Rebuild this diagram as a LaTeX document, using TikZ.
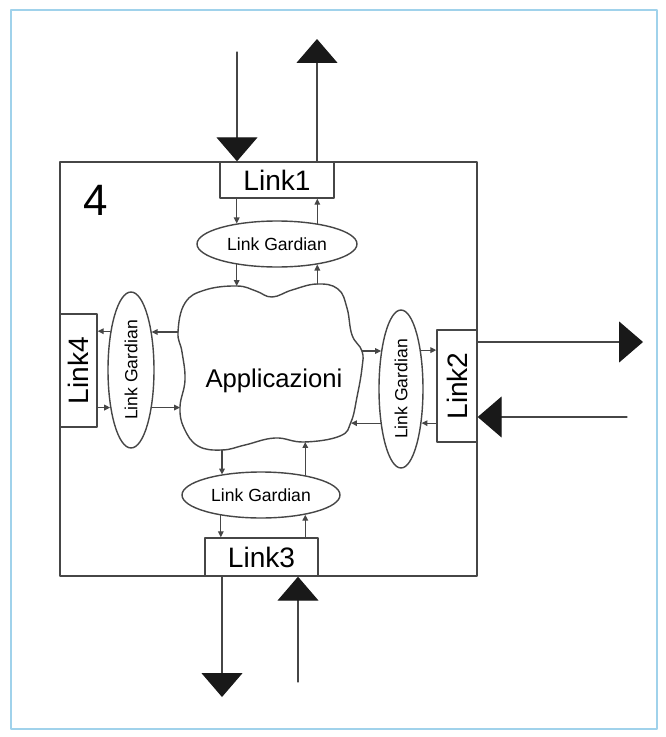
\documentclass[tikz,border=0pt]{standalone}
\usepackage{fontspec}
\setmainfont{Liberation Sans}
\usetikzlibrary{arrows.meta,shapes.geometric}
\definecolor{cornice}{RGB}{160,210,235}
\definecolor{tratto}{RGB}{70,70,70}
\begin{document}
\begin{tikzpicture}[x=0.02cm, y=-0.02cm, line join=round, line cap=round,
	>={Triangle[length=3.4pt,width=3.2pt]},
	linkbox/.style={draw=tratto, line width=0.8pt, fill=white, inner sep=0pt, font=\fontsize{16}{18}\selectfont},
	gardian/.style={ellipse, draw=tratto, line width=0.8pt, fill=white, inner sep=0pt, font=\fontsize{10}{12}\selectfont},
	filo/.style={draw=tratto, line width=0.7pt},
	grande/.style={draw=tratto, line width=0.7pt, -{Triangle[length=0.48cm,width=0.82cm,color=black!90]}}]
	\useasboundingbox (0,0) rectangle (666,737);
	\draw[cornice, line width=1.3pt] (11,10) rectangle (657,729);
	\draw[tratto, line width=0.8pt] (60,162) rectangle (477,576); % nodo 4
	\node[anchor=base, font=\fontsize{25}{30}\selectfont] (num) at (96,215) {4};
	% nuvola
	\draw[tratto, line width=0.8pt, fill=white] plot[smooth cycle, tension=0.7] coordinates {
		(178,332) (185,303) (205,290) (237,286) (256,291) (272,297) (292,290) (317,284)
		(338,289) (347,308) (352,335) (362,351) (362,368) (357,397) (351,422) (340,436)
		(304,442) (275,438) (245,445) (222,450) (198,446) (184,428) (180,407) (185,380)
		(182,352)};
	\node[anchor=base, font=\fontsize{14.6}{17}\selectfont] (app) at (274,387) {Applicazioni};
	\coordinate (app-n1) at (237,286); \coordinate (app-n2) at (317,284);
	\coordinate (app-e1) at (362,351); \coordinate (app-e2) at (351,422);
	\coordinate (app-s1) at (222,450); \coordinate (app-s2) at (304,442);
	\coordinate (app-w1) at (178,332); \coordinate (app-w2) at (180,407);
	% link e gardian
	\node[linkbox, minimum width=2.28cm, minimum height=0.72cm] (l1) at (277,180) {Link1};
	\node[linkbox, minimum width=0.8cm, minimum height=2.24cm] (l2) at (457,386) {\rotatebox{90}{Link2}};
	\node[linkbox, minimum width=2.26cm, minimum height=0.76cm] (l3) at (261.5,557) {Link3};
	\node[linkbox, minimum width=0.74cm, minimum height=2.26cm] (l4) at (78.5,370.5) {\rotatebox{90}{Link4}};
	\node[gardian, minimum width=3.2cm, minimum height=0.92cm] (lg1) at (277,244) {Link Gardian};
	\node[gardian, minimum width=0.88cm, minimum height=3.16cm] (lg2) at (401,389) {\rotatebox{90}{Link Gardian}};
	\node[gardian, minimum width=3.16cm, minimum height=0.92cm] (lg3) at (261,495) {Link Gardian};
	\node[gardian, minimum width=0.92cm, minimum height=3.12cm] (lg4) at (131,370) {\rotatebox{90}{Link Gardian}};
	% Link1
	\coordinate (in1) at (237,52); \coordinate (out1) at (317,39);
	\draw[grande] (in1) -- (in1 |- l1.north);
	\draw[grande] (out1 |- l1.north) -- (out1);
	\draw[filo,->] (l1.south -| lg1.153) -- (lg1.153);
	\draw[filo,->] (lg1.27) -- (lg1.27 |- l1.south);
	\draw[filo,->] (lg1.207) -- (lg1.207 |- app-n1);
	\draw[filo,->] (lg1.333 |- app-n2) -- (lg1.333);
	% Link2
	\coordinate (out2) at (643,342); \coordinate (in2) at (627,417);
	\draw[grande] (out2 -| l2.east) -- (out2);
	\draw[grande] (in2) -- (in2 -| l2.east);
	\draw[filo,->] (app-e1) -- (app-e1 -| lg2.117);
	\draw[filo,->] (lg2.63) -- (lg2.63 -| l2.west);
	\draw[filo,->] (lg2.301 -| l2.west) -- (lg2.301);
	\draw[filo,->] (lg2.239) -- (lg2.239 -| app-e2);
	% Link3
	\coordinate (out3) at (222,697); \coordinate (in3) at (298,682);
	\draw[grande] (out3 |- l3.south) -- (out3);
	\draw[grande] (in3) -- (in3 |- l3.south);
	\draw[filo,->] (app-s1) -- (app-s1 |- lg3.153);
	\draw[filo,->] (lg3.207) -- (lg3.207 |- l3.north);
	\draw[filo,->] (lg3.336 |- l3.north) -- (lg3.336);
	\draw[filo,->] (lg3.24) -- (lg3.24 |- app-s2);
	% Link4
	\draw[filo,->] (app-w1) -- (app-w1 -| lg4.62);
	\draw[filo,->] (lg4.118) -- (lg4.118 -| l4.east);
	\draw[filo,->] (lg4.241 -| l4.east) -- (lg4.241);
	\draw[filo,->] (lg4.299) -- (lg4.299 -| app-w2);
\end{tikzpicture}
\end{document}
